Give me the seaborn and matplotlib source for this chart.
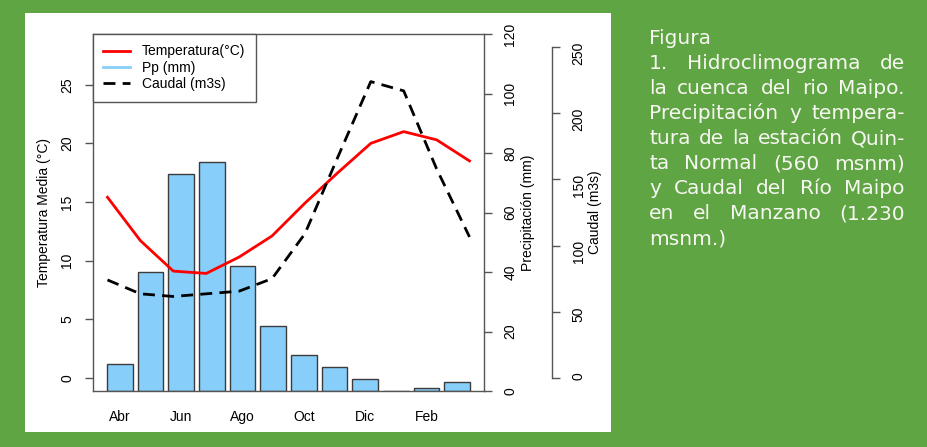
import matplotlib
matplotlib.use("Agg")
import matplotlib.pyplot as plt
import seaborn as sns
import numpy as np
import pandas as pd
from matplotlib.patches import Rectangle
from matplotlib.lines import Line2D

# Monthly hydro-climate series (hydrological year, April to March)
months = ["Abr", "May", "Jun", "Jul", "Ago", "Sep", "Oct", "Nov", "Dic", "Ene", "Feb", "Mar"]
temperatura = [15.4, 11.7, 9.1, 8.9, 10.3, 12.1, 14.9, 17.5, 20.0, 21.0, 20.3, 18.5]
precipitacion = [9.1, 40.1, 73.1, 77.1, 42.0, 22.0, 12.0, 8.1, 3.9, 0.0, 0.9, 2.9]
caudal = [74.0, 63.5, 61.5, 63.5, 65.5, 75.0, 109.0, 167.0, 224.0, 217.0, 158.0, 106.5]

temp_ticks = [0, 5, 10, 15, 20, 25]
pp_ticks = [0, 20, 40, 60, 80, 100, 120]
q_ticks = [0, 50, 100, 150, 200, 250]

legend_labels = ["Temperatura(°C)", "Pp (mm)", "Caudal (m3s)"]

caption_lines = [
    "Figura",
    "1. Hidroclimograma de",
    "la cuenca del rio Maipo.",
    "Precipitación y tempera-",
    "tura de la estación Quin-",
    "ta Normal (560 msnm)",
    "y Caudal del Río Maipo",
    "en el Manzano (1.230",
    "msnm.)",
]

GREEN = "#60a544"
BAR = "#87cefa"
AXC = "#555555"
FONT = "Liberation Sans"

plt.rcParams["font.family"] = [FONT, "DejaVu Sans"]
plt.rcParams["font.size"] = 10

W, H = 928, 447
fig = plt.figure(figsize=(W / 100, H / 100), dpi=100)
fig.patch.set_facecolor(GREEN)
fig.add_artist(Rectangle((25 / W, 1 - 432 / H), 586 / W, 419 / H,
                         transform=fig.transFigure, facecolor="white",
                         edgecolor="none", zorder=-1))

pos = [93 / W, 1 - 391 / H, 391 / W, 357 / H]

# --- precipitation bars (right axis, 0-120 mm) ---
ax_p = fig.add_axes(pos, label="pp")
df = pd.DataFrame({"mes": months, "pp": precipitacion})
sns.barplot(data=df, x="mes", y="pp", order=months, color=BAR, saturation=1,
            edgecolor="#3c3c3c", linewidth=1.0, width=0.833, ax=ax_p)
ax_p.set_xlim(-0.873, 11.873)
ax_p.set_ylim(0, 120)
ax_p.set_xlabel("")
ax_p.set_ylabel("Precipitación (mm)", fontsize=10)
ax_p.yaxis.set_label_position("right")
ax_p.yaxis.tick_right()
ax_p.set_yticks(pp_ticks)
ax_p.set_yticklabels([str(v) for v in pp_ticks])
ax_p.set_xticks(range(0, 12, 2))
ax_p.set_xticklabels(months[::2])
ax_p.tick_params(axis="x", length=0, pad=14, labelsize=10)
ax_p.tick_params(axis="y", length=5.5, width=1, color=AXC, pad=8.5,
                 labelsize=10, labelrotation=90)
for lab in ax_p.get_yticklabels():
    lab.set_va("center")
for s in ax_p.spines.values():
    s.set_color(AXC)
    s.set_linewidth(1)
ax_p.yaxis.set_label_coords(1.094, 0.5)

# --- mean temperature line (left axis) ---
mx = np.arange(1, 13)
ax_t = fig.add_axes(pos, label="temp", facecolor="none")
sns.lineplot(x=mx, y=temperatura, ax=ax_t, color="red", lw=2.0)
ax_t.set_xlim(0.56, 12.44)
ax_t.set_ylim(-1.13, 29.33)
ax_t.xaxis.set_visible(False)
ax_t.set_yticks(temp_ticks)
ax_t.set_yticklabels([str(v) for v in temp_ticks])
ax_t.tick_params(axis="y", length=5.5, width=1, color=AXC, pad=8,
                 labelsize=10, labelrotation=90)
for lab in ax_t.get_yticklabels():
    lab.set_va("center")
for s in ax_t.spines.values():
    s.set_visible(False)
ax_t.set_ylabel("Temperatura Media (°C)", fontsize=10)
ax_t.yaxis.set_label_coords(-0.108, 0.5)

# --- streamflow line (outer right axis) ---
ax_q = fig.add_axes(pos, label="caudal", facecolor="none")
sns.lineplot(x=mx, y=caudal, ax=ax_q, color="black", lw=2.0)
ax_q.lines[0].set_dashes([4.3, 2.6])
ax_q.set_xlim(0.56, 12.44)
ax_q.set_ylim(-10, 260)
ax_q.xaxis.set_visible(False)
ax_q.yaxis.tick_right()
ax_q.yaxis.set_label_position("right")
ax_q.set_yticks(q_ticks)
ax_q.set_yticklabels([str(v) for v in q_ticks])
ax_q.tick_params(axis="y", length=5.5, width=1, color=AXC, pad=8.5,
                 labelsize=10, labelrotation=90)
for lab in ax_q.get_yticklabels():
    lab.set_va("center")
for name, s in ax_q.spines.items():
    s.set_visible(name == "right")
ax_q.spines["right"].set_position(("outward", 49))
ax_q.spines["right"].set_bounds(0, 250)
ax_q.spines["right"].set_color(AXC)
ax_q.spines["right"].set_linewidth(1)
ax_q.set_ylabel("Caudal (m3s)", fontsize=10)
ax_q.yaxis.set_label_coords(1.265, 0.5)

handles = [
    Line2D([], [], color="red", lw=2.0),
    Line2D([], [], color=BAR, lw=2.0),
    Line2D([], [], color="black", lw=2.0, dashes=(4.3, 2.6)),
]
leg = ax_q.legend(handles, legend_labels, loc="upper left", bbox_to_anchor=(0, 1),
                  borderaxespad=0, frameon=True, fancybox=False, framealpha=1,
                  edgecolor=AXC, facecolor="white", handlelength=1.94,
                  handletextpad=0.83, borderpad=0.75, labelspacing=0.17,
                  fontsize=10)
leg.get_frame().set_linewidth(1)

# --- justified caption on the green band ---
fig.canvas.draw()
renderer = fig.canvas.get_renderer()
x0, x1 = 649, 905
cap_kw = dict(color="#f7f7f2", fontsize=14.5, family=["DejaVu Sans"],
              va="baseline", ha="left")
for i, line in enumerate(caption_lines):
    yb = 44.3 + 25 * i
    words = line.split(" ")
    texts = [fig.text(0, 0, w, **cap_kw) for w in words]
    widths = [t.get_window_extent(renderer).width for t in texts]
    justify = 0 < i < len(caption_lines) - 1 and len(words) > 1
    if justify:
        gap = (x1 - x0 - sum(widths)) / (len(words) - 1)
    else:
        gap = 6
    x = x0
    for t, w in zip(texts, widths):
        t.set_position((x / W, 1 - yb / H))
        x += w + gap

fig.savefig("out.png", dpi=100, facecolor=fig.get_facecolor())
